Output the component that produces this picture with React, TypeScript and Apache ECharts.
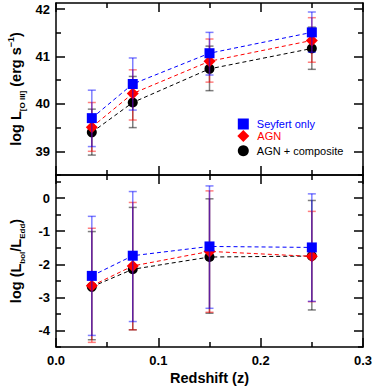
import React, { useEffect, useRef } from "react";
import * as echarts from "echarts";

// Redshift bins
const X = [0.035, 0.075, 0.15, 0.25];

// Top panel: log L[O III]
const lumSey = [39.7, 40.42, 41.07, 41.51];
const lumSeyLo = [39.1, 39.87, 40.61, 41.09];
const lumSeyHi = [40.29, 40.97, 41.51, 41.94];
const lumAgn = [39.51, 40.22, 40.9, 41.34];
const lumAgnLo = [39.0, 39.66, 40.46, 40.88];
const lumAgnHi = [40.03, 40.72, 41.37, 41.82];
const lumAll = [39.4, 40.03, 40.74, 41.17];
const lumAllLo = [38.92, 39.5, 40.28, 40.73];
const lumAllHi = [39.89, 40.58, 41.22, 41.62];

// Bottom panel: log (Lbol/LEdd)
const eddSey = [-2.35, -1.74, -1.46, -1.49];
const eddSeyLo = [-4.15, -3.73, -3.33, -3.12];
const eddSeyHi = [-0.55, 0.2, 0.37, 0.13];
const eddAgn = [-2.65, -2.05, -1.61, -1.76];
const eddAgnLo = [-4.36, -3.98, -3.45, -3.13];
const eddAgnHi = [-0.91, -0.13, 0.22, -0.4];
const eddAll = [-2.68, -2.15, -1.78, -1.75];
const eddAllLo = [-4.28, -3.98, -3.48, -3.38];
const eddAllHi = [-1.01, -0.28, -0.02, -0.07];

// Tick values
const lumMajor = [39, 40, 41, 42];
const lumMinor = [38.5, 39.5, 40.5, 41.5];
const eddMajor = [-4, -3, -2, -1, 0];
const eddMinor = [-4.5, -3.5, -2.5, -1.5, -0.5, 0.5];

const NAMES = ["Seyfert only", "AGN", "AGN + composite"];

const FONT = "Liberation Sans";
const MAJOR_LEN = 9;
const MINOR_LEN = 5;
const AX_W = 1.5;

function App() {
  const ref = useRef<HTMLDivElement>(null);

  useEffect(() => {
    if (!ref.current) return;
    const chart = echarts.init(ref.current, null, { renderer: "svg" });

    const grids = [
      { left: 56, right: 11, top: 3, height: 172 },
      { left: 56, right: 11, top: 175, height: 172 },
    ];

    const mkX = (gridIndex: number, position: "top" | "bottom", labels: boolean) => ({
      type: "value",
      gridIndex,
      position,
      min: 0,
      max: 0.3,
      interval: 0.1,
      axisLine: { show: true, onZero: false, lineStyle: { color: "#000", width: AX_W } },
      axisTick: { show: true, inside: true, length: MAJOR_LEN, lineStyle: { color: "#000", width: AX_W } },
      minorTick: { show: true, splitNumber: 2, length: MINOR_LEN, lineStyle: { color: "#000", width: AX_W } },
      splitLine: { show: false },
      axisLabel: {
        show: labels,
        margin: 7,
        color: "#000",
        fontWeight: "bold",
        fontSize: 13,
        fontFamily: FONT,
        formatter: (v: number) => v.toFixed(1),
      },
      name: labels ? "Redshift (z)" : "",
      nameLocation: "middle",
      nameGap: 23,
      nameMoveOverlap: false,
      nameTextStyle: { color: "#000", fontWeight: "bold", fontSize: 14.5, fontFamily: FONT },
    });

    const mkY = (
      gridIndex: number,
      position: "left" | "right",
      min: number,
      max: number,
      ticks: number[],
      len: number,
      showLine: boolean,
      labels: boolean,
      name: string,
      rich: any
    ) => ({
      type: "value",
      gridIndex,
      position,
      min,
      max,
      axisLine: { show: showLine, onZero: false, lineStyle: { color: "#000", width: AX_W } },
      axisTick: { show: true, inside: true, length: len, customValues: ticks, lineStyle: { color: "#000", width: AX_W } },
      splitLine: { show: false },
      axisLabel: {
        show: labels,
        customValues: ticks,
        margin: 6,
        color: "#000",
        fontWeight: "bold",
        fontSize: 13,
        fontFamily: FONT,
      },
      name,
      nameLocation: "middle",
      nameGap: 30,
      nameMoveOverlap: false,
      nameTextStyle: { color: "#000", fontFamily: FONT, rich },
    });

    const richLum = {
      m: { fontSize: 14.5, fontWeight: "bold", fontFamily: FONT, color: "#000", lineHeight: 20 },
      sub: { fontSize: 8, fontWeight: "bold", fontFamily: FONT, color: "#000", lineHeight: 9, verticalAlign: "bottom" },
      sup: { fontSize: 9, fontWeight: "bold", fontFamily: FONT, color: "#000", lineHeight: 10, verticalAlign: "top" },
    };

    const yAxes = [
      mkY(0, "left", 38.5, 42.13, lumMajor, MAJOR_LEN, true, true,
        "{m|log L}{sub|[O III]}{m| (erg s}{sup|−1}{m|)}", richLum),
      mkY(0, "left", 38.5, 42.13, lumMinor, MINOR_LEN, false, false, "", undefined),
      mkY(0, "right", 38.5, 42.13, lumMajor, MAJOR_LEN, true, false, "", undefined),
      mkY(0, "right", 38.5, 42.13, lumMinor, MINOR_LEN, false, false, "", undefined),
      mkY(1, "left", -4.5, 0.7, eddMajor, MAJOR_LEN, true, true,
        "{m|log (L}{sub|bol}{m|/L}{sub|Edd}{m|)}", richLum),
      mkY(1, "left", -4.5, 0.7, eddMinor, MINOR_LEN, false, false, "", undefined),
      mkY(1, "right", -4.5, 0.7, eddMajor, MAJOR_LEN, true, false, "", undefined),
      mkY(1, "right", -4.5, 0.7, eddMinor, MINOR_LEN, false, false, "", undefined),
    ];

    const xAxes = [mkX(0, "bottom", false), mkX(0, "top", false), mkX(1, "bottom", true), mkX(1, "top", false)];

    const errColor = ["rgba(0,0,0,0.5)", "rgba(255,0,0,0.5)", "rgba(0,0,255,0.5)"];
    const lineColor = ["#000000", "#ff0000", "#0000ff"];
    const symbols = ["circle", "diamond", "rect"];
    const symSizes = [10, 12, 10];
    const names = [NAMES[2], NAMES[1], NAMES[0]];

    const panels = [
      { x: 0, y: 0, sets: [[lumAll, lumAllLo, lumAllHi], [lumAgn, lumAgnLo, lumAgnHi], [lumSey, lumSeyLo, lumSeyHi]] },
      { x: 2, y: 4, sets: [[eddAll, eddAllLo, eddAllHi], [eddAgn, eddAgnLo, eddAgnHi], [eddSey, eddSeyLo, eddSeyHi]] },
    ];

    const series: any[] = [];
    panels.forEach((p) => {
      p.sets.forEach((s, i) => {
        const [vals, lo, hi] = s;
        series.push({
          type: "line",
          name: names[i],
          xAxisIndex: p.x,
          yAxisIndex: p.y,
          data: X.map((x, k) => [x, vals[k]]),
          symbol: symbols[i],
          symbolSize: symSizes[i],
          showSymbol: true,
          itemStyle: { color: lineColor[i] },
          lineStyle: { color: lineColor[i], width: 1, type: [4, 3] },
          silent: true,
          z: 2 + i * 2,
        });
        series.push({
          type: "custom",
          xAxisIndex: p.x,
          yAxisIndex: p.y,
          silent: true,
          z: 3 + i * 2,
          data: X.map((x, k) => [x, lo[k], hi[k]]),
          encode: { x: 0, y: [1, 2] },
          renderItem: (params: any, api: any) => {
            const x = api.value(0);
            const pLo = api.coord([x, api.value(1)]);
            const pHi = api.coord([x, api.value(2)]);
            const w = 4;
            const style = { stroke: errColor[i], lineWidth: 1.5, fill: null };
            return {
              type: "group",
              children: [
                { type: "line", shape: { x1: pLo[0], y1: pLo[1], x2: pHi[0], y2: pHi[1] }, style },
                { type: "line", shape: { x1: pLo[0] - w, y1: pLo[1], x2: pLo[0] + w, y2: pLo[1] }, style },
                { type: "line", shape: { x1: pHi[0] - w, y1: pHi[1], x2: pHi[0] + w, y2: pHi[1] }, style },
              ],
            };
          },
        });
      });
    });

    const mkLegend = (name: string, icon: string, size: number, cy: number, color: string) => ({
      show: true,
      selectedMode: false,
      orient: "vertical",
      left: 243.3 - size / 2,
      top: cy - size / 2,
      padding: 0,
      itemWidth: size,
      itemHeight: size,
      data: [{ name, icon }],
      textStyle: { color, fontSize: 11, fontFamily: FONT, padding: [0, 0, 0, 3] },
    });

    chart.setOption({
      animation: false,
      textStyle: { fontFamily: FONT },
      grid: grids.map((g) => ({ ...g, containLabel: false, outerBoundsMode: "none" })),
      xAxis: xAxes,
      yAxis: yAxes,
      legend: [
        mkLegend(NAMES[0], "rect", 11, 124, "#0000ff"),
        mkLegend(NAMES[1], "diamond", 12, 136, "#ff0000"),
        mkLegend(NAMES[2], "circle", 11, 150.7, "#000000"),
      ],
      series,
    });

    return () => chart.dispose();
  }, []);

  return (
    <div
      ref={ref}
      style={{ position: "fixed", left: 0, top: 0, width: 374, height: 386, background: "#fff" }}
    />
  );
}

export default App;
